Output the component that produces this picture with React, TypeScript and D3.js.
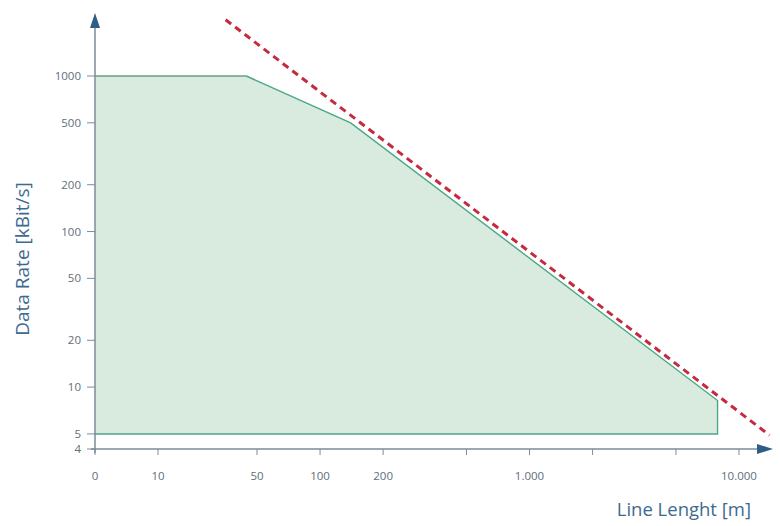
import * as d3 from "d3";
import React, { useRef, useEffect } from "react";

// reachable data rate over line length
const areaLengths = [0, 42, 140, 7900, 7900, 0];
const areaRates = [1000, 1000, 500, 8.2, 5, 5];

// dashed limit line
const limitLengths = [30, 14000];
const limitRates = [2300, 4.9];

const xTicks = [0, 10, 50, 100, 200, 500, 1000, 2000, 5000, 10000];
const xTickLabels = ["0", "10", "50", "100", "200", "", "1.000", "", "", "10.000"];
const yTicks = [4, 5, 10, 20, 50, 100, 200, 500, 1000];

export default function App() {
  const svgRef = useRef<SVGSVGElement>(null);

  useEffect(() => {
    const width = 780;
    const height = 526;
    const axisX = 95;
    const axisY = 449;

    // x axis: 0..10 and 10..50 are squeezed, log from 50 on
    const xLin = d3
      .scaleLinear()
      .domain([0, 1, Math.log10(50), 4])
      .range([axisX, 158, 257, 739]);
    const xScale = (v: number) => xLin(v <= 1 ? 0 : Math.log10(v));
    const yScale = d3.scaleLog().domain([4, 1000]).range([axisY, 76]);

    const svg = d3
      .select(svgRef.current)
      .attr("width", width)
      .attr("height", height)
      .style("display", "block")
      .style("background", "#fff");
    svg.selectAll("*").remove();

    const fontFamily = "'Open Sans', 'Liberation Sans', sans-serif";

    const pts: [number, number][] = areaLengths.map((l, i) => [xScale(l), yScale(areaRates[i])]);

    // filled region
    svg
      .append("path")
      .attr("d", d3.line()(pts) + "Z")
      .attr("fill", "#d9eadf")
      .attr("stroke", "none");

    // top edge line
    svg
      .append("path")
      .attr("d", d3.line()(pts.slice(0, 2)))
      .attr("fill", "none")
      .attr("stroke", "#6f9a8a")
      .attr("stroke-width", 1.3);
    svg
      .append("path")
      .attr("d", d3.line()(pts.slice(1, 6)))
      .attr("fill", "none")
      .attr("stroke", "#4aa886")
      .attr("stroke-width", 1.4);

    // dashed limit
    const limPts: [number, number][] = limitLengths.map((l, i) => [xScale(l), yScale(limitRates[i])]);
    svg
      .append("path")
      .attr("d", d3.line()(limPts))
      .attr("fill", "none")
      .attr("stroke", "#c52a3e")
      .attr("stroke-width", 3)
      .attr("stroke-dasharray", "7,5");

    // axes
    const axisColor = "#7b8c99";
    svg
      .append("line")
      .attr("x1", axisX)
      .attr("x2", axisX)
      .attr("y1", axisY + 4)
      .attr("y2", 24)
      .attr("stroke", axisColor)
      .attr("stroke-width", 1.5);
    svg
      .append("path")
      .attr("d", `M${axisX - 5},28 L${axisX},13 L${axisX + 5},28 Z`)
      .attr("fill", "#2f5d83");

    svg
      .append("line")
      .attr("x1", axisX - 4)
      .attr("x2", 760)
      .attr("y1", axisY)
      .attr("y2", axisY)
      .attr("stroke", axisColor)
      .attr("stroke-width", 1.5);
    svg
      .append("path")
      .attr("d", `M757,${axisY - 5} L773,${axisY} L757,${axisY + 5} Z`)
      .attr("fill", "#2f5d83");

    // y ticks
    const yg = svg.append("g");
    yTicks.forEach((t) => {
      const y = yScale(t);
      yg.append("line")
        .attr("x1", axisX - 8)
        .attr("x2", axisX)
        .attr("y1", y)
        .attr("y2", y)
        .attr("stroke", axisColor)
        .attr("stroke-width", 1);
      yg.append("text")
        .attr("x", axisX - 14)
        .attr("y", y)
        .attr("dy", "0.35em")
        .attr("text-anchor", "end")
        .attr("font-family", fontFamily)
        .attr("font-size", 11.5)
        .attr("fill", "#5e6e7b")
        .text(String(t));
    });

    // x ticks
    const xg = svg.append("g");
    xTicks.forEach((t, i) => {
      const x = xScale(t);
      xg.append("line")
        .attr("x1", x)
        .attr("x2", x)
        .attr("y1", axisY)
        .attr("y2", axisY + 6)
        .attr("stroke", axisColor)
        .attr("stroke-width", 1);
      if (xTickLabels[i])
        xg.append("text")
          .attr("x", x)
          .attr("y", axisY + 31)
          .attr("text-anchor", "middle")
          .attr("font-family", fontFamily)
          .attr("font-size", 11.5)
          .attr("fill", "#5e6e7b")
          .text(xTickLabels[i]);
    });

    // titles
    svg
      .append("text")
      .attr("transform", `translate(29,259) rotate(-90)`)
      .attr("text-anchor", "middle")
      .attr("font-family", fontFamily)
      .attr("font-size", 19)
      .attr("fill", "#3d6a90")
      .text("Data Rate [kBit/s]");
    svg
      .append("text")
      .attr("x", 751)
      .attr("y", 516)
      .attr("text-anchor", "end")
      .attr("font-family", fontFamily)
      .attr("font-size", 18.5)
      .attr("fill", "#3d6a90")
      .text("Line Lenght [m]");
  }, []);

  return (
    <svg ref={svgRef} style={{ position: "absolute", left: 0, top: 0 }}></svg>
  );
}
